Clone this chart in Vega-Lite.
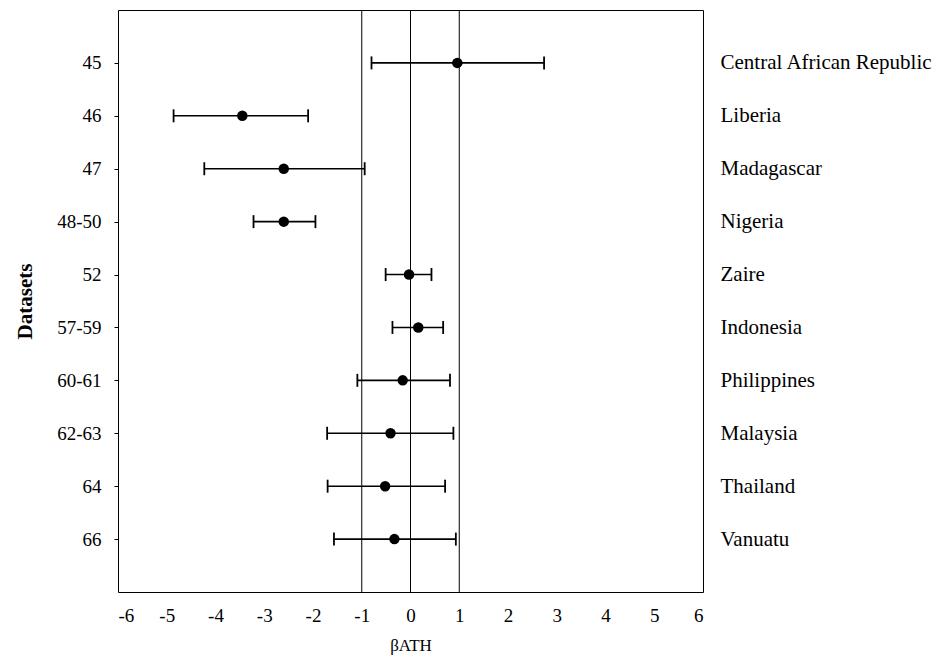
{
  "$schema": "https://vega.github.io/schema/vega-lite/v6.json",
  "autosize": {"type": "none"},
  "width": 585,
  "height": 582,
  "padding": {"left": 118, "top": 10, "right": 234, "bottom": 72},
  "background": "white",
  "datasets": {
    "rows": [
      {"ds": "45", "country": "Central African Republic", "est": 0.96, "lo": -0.80, "hi": 2.74},
      {"ds": "46", "country": "Liberia", "est": -3.45, "lo": -4.86, "hi": -2.10},
      {"ds": "47", "country": "Madagascar", "est": -2.60, "lo": -4.23, "hi": -0.94},
      {"ds": "48-50", "country": "Nigeria", "est": -2.60, "lo": -3.22, "hi": -1.95},
      {"ds": "52", "country": "Zaire", "est": -0.03, "lo": -0.51, "hi": 0.43},
      {"ds": "57-59", "country": "Indonesia", "est": 0.16, "lo": -0.37, "hi": 0.67},
      {"ds": "60-61", "country": "Philippines", "est": -0.16, "lo": -1.09, "hi": 0.81},
      {"ds": "62-63", "country": "Malaysia", "est": -0.41, "lo": -1.71, "hi": 0.88},
      {"ds": "64", "country": "Thailand", "est": -0.52, "lo": -1.70, "hi": 0.71},
      {"ds": "66", "country": "Vanuatu", "est": -0.33, "lo": -1.57, "hi": 0.93}
    ],
    "refs": [{"v": -1}, {"v": 0}, {"v": 1}]
  },
  "config": {
    "view": {"stroke": "black", "strokeWidth": 1},
    "font": "Liberation Serif",
    "axis": {
      "labelFont": "Liberation Serif",
      "titleFont": "Liberation Serif",
      "labelColor": "black",
      "titleColor": "black",
      "grid": false,
      "domain": false
    }
  },
  "resolve": {"scale": {"y": "independent"}},
  "layer": [
    {
      "data": {"name": "refs"},
      "mark": {"type": "rule", "color": "black", "strokeWidth": 1},
      "encoding": {
        "x": {
          "field": "v",
          "type": "quantitative",
          "scale": {"domain": [-6, 6], "nice": false, "zero": false},
          "axis": {
            "values": [-6, -5, -4, -3, -2, -1, 0, 1, 2, 3, 4, 5, 6],
            "labelExpr": "'' + datum.value",
            "ticks": false,
            "labelPadding": 14,
            "labelFontSize": 19,
            "title": "βATH",
            "titleFontSize": 17,
            "titleFontWeight": "normal",
            "titlePadding": 12
          }
        }
      }
    },
    {
      "data": {"name": "rows"},
      "encoding": {
        "y": {
          "field": "ds",
          "type": "nominal",
          "sort": null,
          "scale": {"type": "point", "padding": 1},
          "axis": {
            "orient": "left",
            "ticks": true,
            "tickSize": 4,
            "tickColor": "black",
            "labelPadding": 13,
            "labelFontSize": 19,
            "title": "Datasets",
            "titleFontSize": 21,
            "titleFontWeight": "bold",
            "titleAngle": -90,
            "titleX": -93,
            "titleY": 291,
            "titleAlign": "center",
            "titleBaseline": "middle"
          }
        }
      },
      "layer": [
        {
          "mark": {"type": "rule", "color": "black", "strokeWidth": 1.6},
          "encoding": {
            "x": {"field": "lo", "type": "quantitative"},
            "x2": {"field": "hi"}
          }
        },
        {
          "mark": {"type": "tick", "color": "black", "size": 13, "thickness": 1.8, "opacity": 1},
          "encoding": {"x": {"field": "lo", "type": "quantitative"}}
        },
        {
          "mark": {"type": "tick", "color": "black", "size": 13, "thickness": 1.8, "opacity": 1},
          "encoding": {"x": {"field": "hi", "type": "quantitative"}}
        }
      ]
    },
    {
      "data": {"name": "rows"},
      "mark": {"type": "point", "filled": true, "color": "black", "size": 110, "opacity": 1},
      "encoding": {
        "x": {"field": "est", "type": "quantitative"},
        "y": {
          "field": "country",
          "type": "nominal",
          "sort": null,
          "scale": {"type": "point", "padding": 1},
          "axis": {
            "orient": "right",
            "ticks": false,
            "labelPadding": 17,
            "labelFontSize": 21,
            "labelAlign": "left",
            "labelLimit": 0,
            "title": null
          }
        }
      }
    }
  ]
}
